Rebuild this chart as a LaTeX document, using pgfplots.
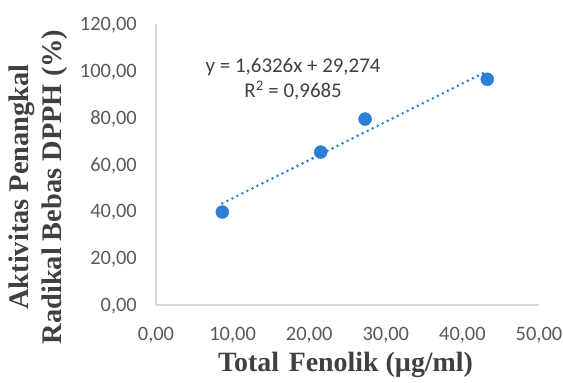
\documentclass[border=0pt]{standalone}
\usepackage{pgfplots}
\pgfplotsset{compat=1.18}
\usepackage{fontspec}
\setmainfont{Carlito}
\newfontfamily\tnr{Liberation Serif}
\definecolor{ptblue}{RGB}{46,125,214}
\definecolor{axgray}{RGB}{217,217,217}
\definecolor{txtgray}{RGB}{89,89,89}
\definecolor{titlegray}{RGB}{64,64,64}
\begin{document}
\begin{tikzpicture}
\useasboundingbox (-156bp,-78bp) rectangle (407bp,305bp);
\begin{axis}[
 scale only axis, width=383bp, height=281bp,
 xmin=0, xmax=50, ymin=0, ymax=120,
 xtick={0,10,...,50}, ytick={0,20,...,120},
 axis lines=left,
 axis line style={draw=axgray, line width=1.3bp, -},
 major tick length=0pt,
 tick label style={font=\fontsize{20.5}{24}\selectfont, text=txtgray},
 /pgf/number format/fixed,
 /pgf/number format/fixed zerofill,
 /pgf/number format/precision=2,
 /pgf/number format/use comma,
 /pgf/number format/assume math mode=true,
 xticklabel style={anchor=base, inner sep=0pt, yshift=-35bp},
 yticklabel style={anchor=base east, inner sep=0pt, xshift=-19bp, yshift=-6.6bp},
 clip=false,
]
\addplot[ptblue, line width=2.9bp, line cap=round, dash pattern=on 0bp off 5.6bp] coordinates {(8.66,43.41) (43.25,99.89)};
\addplot[only marks, mark=*, mark size=6.5bp, mark options={draw=ptblue, fill=ptblue}] coordinates {(8.66,39.7) (21.5,65.3) (27.3,79.4) (43.25,96.4)};
\node[align=center, text=titlegray, font=\fontsize{21}{25}\selectfont] at (axis cs:17.9,96.3) {y = 1,6326x + 29,274\\R\textsuperscript{2} = 0,9685};
\end{axis}
\node[text=titlegray, font=\tnr\bfseries\fontsize{28}{32}\selectfont] at (189.5bp,-60bp) {Total\hspace{0.35em}Fenolik (µg/ml)};
\node[text=titlegray, rotate=90, align=center, font=\tnr\bfseries\fontsize{28.5}{33}\selectfont] at (-117.5bp,118bp) {Aktivitas Penangkal\\Radikal Bebas DPPH (\%)};
\end{tikzpicture}
\end{document}
